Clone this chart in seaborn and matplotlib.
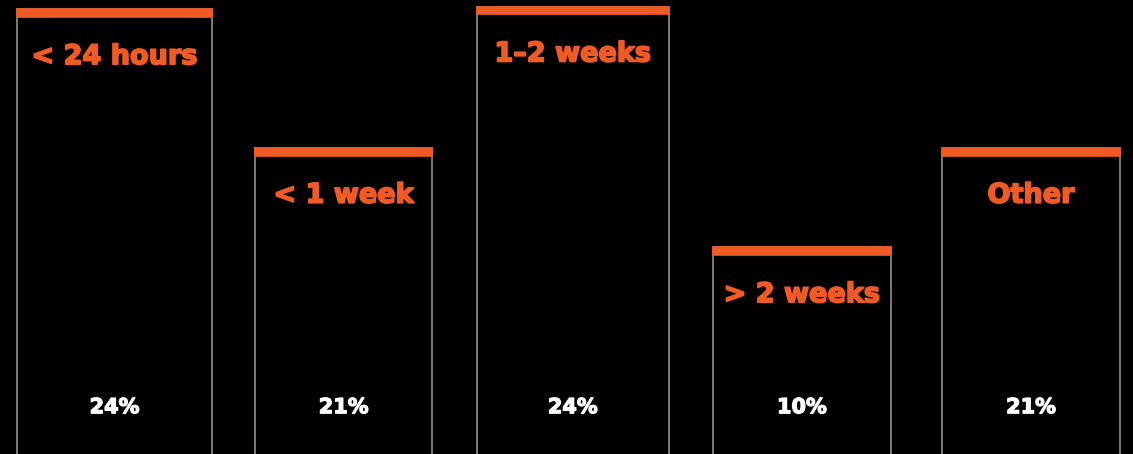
import matplotlib
matplotlib.use("Agg")
import matplotlib.pyplot as plt
import matplotlib.patheffects as pe
import seaborn as sns
import pandas as pd
from matplotlib.patches import Rectangle

categories = ["< 24 hours", "< 1 week", "1\u20132 weeks", "> 2 weeks", "Other"]
percent_values = [24, 21, 24, 10, 21]
bar_heights = [99.4, 68.6, 100.0, 46.5, 68.6]   # displayed bar heights (relative)
bar_widths = [0.853, 0.775, 0.836, 0.775, 0.775]

ORANGE = "#F05A24"
GREY = "#8f8f8f"

df = pd.DataFrame({"category": categories, "height": bar_heights,
                   "pct": percent_values})

sns.set_theme(style="white")
plt.rcParams["font.family"] = ["DejaVu Sans"]

fig = plt.figure(figsize=(11.33, 4.54), dpi=100, facecolor="black")
ax = fig.add_axes([0, 0, 1, 1])
ax.set_facecolor("black")

sns.barplot(data=df, x="category", y="height", order=categories,
            color="black", edgecolor=GREY, linewidth=1.2, width=0.8,
            saturation=1, ax=ax)

ax.set_ylim(0.6, 101.5)
ax.set_xlim(-0.50, 4.445)

band = 1.68
for patch, w, cat, pct in zip(ax.patches, bar_widths, categories, percent_values):
    cx = patch.get_x() + patch.get_width() / 2
    patch.set_x(cx - w / 2)
    patch.set_width(w)
    h = patch.get_height()
    ax.add_patch(Rectangle((cx - w / 2, h - band), w, band,
                           facecolor=ORANGE, edgecolor=ORANGE, linewidth=1.2,
                           zorder=5))
    ax.text(cx, h - 10.6, cat, ha="center", va="center", color=ORANGE,
            fontsize=19.5, fontweight="bold", zorder=6,
            path_effects=[pe.withStroke(linewidth=1.3, foreground=ORANGE)])
    ax.text(cx, 11.0, f"{pct}%", ha="center", va="center", color="white",
            fontsize=15, fontweight="bold", zorder=6,
            path_effects=[pe.withStroke(linewidth=0.9, foreground="white")])

ax.set_xlabel("")
ax.set_ylabel("")
ax.set_xticks([])
ax.set_yticks([])
for s in ax.spines.values():
    s.set_visible(False)

fig.savefig("out.png", dpi=100, facecolor="black")
